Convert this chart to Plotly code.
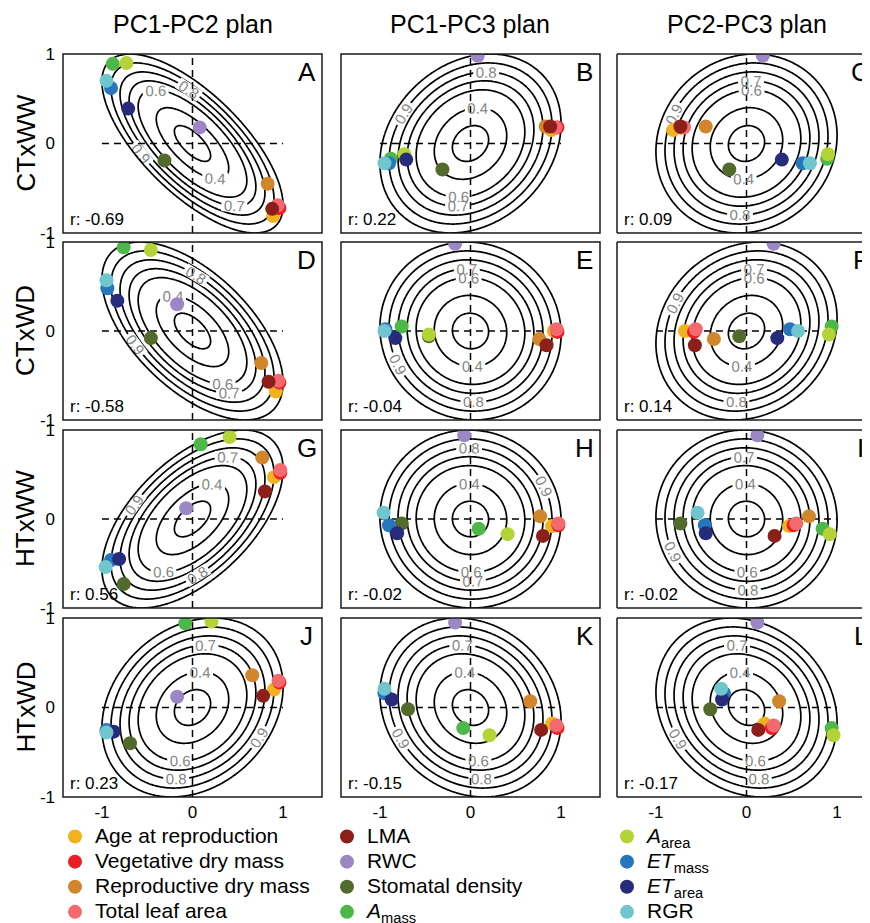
import numpy as np
import plotly.graph_objects as go

# ---------------- data ----------------
TRAITS = ["Age at reproduction", "Vegetative dry mass", "Reproductive dry mass", "Total leaf area",
          "LMA", "RWC", "Stomatal density", "<i>A</i><sub>mass</sub>",
          "<i>A</i><sub>area</sub>", "<i>ET</i><sub>mass</sub>", "<i>ET</i><sub>area</sub>", "RGR"]
COLORS = ["#F2B21F", "#EC1D25", "#D2862B", "#F26A6E",
          "#8C1F1A", "#9C87C5", "#526B2C", "#4DB848",
          "#B4D336", "#2776BD", "#262B7C", "#6FC6CD"]
LEGEND_COLUMN = [0, 0, 0, 0, 1, 1, 1, 1, 2, 2, 2, 2]

TREATMENTS = ["CTxWW", "CTxWD", "HTxWW", "HTxWD"]
PLANS = ["PC1-PC2 plan", "PC1-PC3 plan", "PC2-PC3 plan"]
PLAN_AXES = [(0, 1), (0, 2), (1, 2)]
PANEL_LETTERS = [["A", "B", "C"], ["D", "E", "F"], ["G", "H", "I"], ["J", "K", "L"]]
R_VALUES = [[-0.69, 0.22, 0.09],
            [-0.58, -0.04, 0.14],
            [0.56, -0.02, -0.02],
            [0.23, -0.15, -0.17]]

# loadings (order of TRAITS)
PC1_CTWW = [0.89, 0.96, 0.83, 0.94, 0.88, 0.08, -0.31, -0.88, -0.73, -0.90, -0.71, -0.95]
PC2_CTWW = [-0.81, -0.72, -0.45, -0.69, -0.73, 0.18, -0.19, 0.89, 0.90, 0.62, 0.39, 0.70]
PC3_CTWW = [0.15, 0.18, 0.19, 0.18, 0.19, 0.98, -0.29, -0.17, -0.12, -0.22, -0.18, -0.22]

PC1_CTWD = [0.92, 0.96, 0.76, 0.95, 0.84, -0.17, -0.46, -0.76, -0.46, -0.94, -0.83, -0.95]
PC2_CTWD = [-0.68, -0.58, -0.36, -0.56, -0.57, 0.30, -0.08, 0.94, 0.91, 0.48, 0.34, 0.57]
PC3_CTWD = [0.00, -0.01, -0.09, 0.02, -0.16, 0.98, -0.06, 0.05, -0.04, 0.02, -0.08, 0.00]

PC1_HTWW = [0.90, 0.97, 0.77, 0.97, 0.80, -0.07, -0.76, 0.09, 0.41, -0.90, -0.81, -0.96]
PC2_HTWW = [0.47, 0.52, 0.69, 0.55, 0.31, 0.12, -0.73, 0.84, 0.92, -0.46, -0.45, -0.54]
PC3_HTWW = [-0.08, -0.07, 0.03, -0.05, -0.19, 0.94, -0.05, -0.11, -0.17, -0.07, -0.16, 0.07]

PC1_HTWD = [0.90, 0.96, 0.66, 0.95, 0.78, -0.17, -0.69, -0.08, 0.21, -0.95, -0.87, -0.95]
PC2_HTWD = [0.20, 0.28, 0.36, 0.30, 0.13, 0.12, -0.40, 0.94, 0.96, -0.25, -0.27, -0.28]
PC3_HTWD = [-0.18, -0.23, 0.07, -0.20, -0.25, 0.95, -0.02, -0.23, -0.31, 0.16, 0.09, 0.21]

LOADINGS = [[PC1_CTWW, PC2_CTWW, PC3_CTWW],
            [PC1_CTWD, PC2_CTWD, PC3_CTWD],
            [PC1_HTWW, PC2_HTWW, PC3_HTWW],
            [PC1_HTWD, PC2_HTWD, PC3_HTWD]]

TICKS = [-1, 0, 1]
TICK_LABELS = ["-1", "0", "1"]
LEVELS_LOW = [0.2, 0.4, 0.6]
LEVELS_HIGH = [0.7, 0.8, 0.9]
LEVEL_OUTER = [1.0]

# ---------------- layout geometry (page pixels; body has an 8px margin) ----------------
OFF = 8
W, H = 870 - OFF, 923 - OFF
COL_PX = [(63, 322), (341, 600), (617, 870)]
NOMINAL_W = 259
ROW_PX = [(54, 233), (242, 420), (430, 608), (618, 797)]
XHALF = 1.43
FONT = "Liberation Sans, Arial, sans-serif"
LEGEND_X_PX = [55, 327, 607]


def fx(px):
    return (px - OFF) / W


def fy(py):
    return 1 - (py - OFF) / H


fig = go.Figure()
layout = dict(width=W, height=H, margin=dict(l=0, r=0, t=0, b=0, autoexpand=False),
              paper_bgcolor="white", plot_bgcolor="white",
              font=dict(family=FONT, color="black"), shapes=[], annotations=[])

xs = np.linspace(-1.8, 1.8, 241)
ys = np.linspace(-1.3, 1.3, 181)
XX, YY = np.meshgrid(xs, ys)
LEGEND_IDS = ["legend", "legend2", "legend3"]

for ri in range(4):
    for ci in range(3):
        k = ri * 3 + ci + 1
        xa = "x" if k == 1 else f"x{k}"
        ya = "y" if k == 1 else f"y{k}"
        xl = "xaxis" if k == 1 else f"xaxis{k}"
        yl = "yaxis" if k == 1 else f"yaxis{k}"
        c0, c1 = COL_PX[ci]
        r0, r1 = ROW_PX[ri]
        xr = [-XHALF, -XHALF + 2 * XHALF * (c1 - c0) / NOMINAL_W]
        layout[xl] = dict(domain=[fx(c0), min(1.0, fx(c1))], range=xr, anchor=ya,
                          showgrid=False, zeroline=False, showline=False,
                          tickvals=TICKS, ticktext=TICK_LABELS,
                          showticklabels=(ri == 3), ticks="", ticklabelstandoff=3,
                          tickfont=dict(size=17, family=FONT))
        layout[yl] = dict(domain=[fy(r1), fy(r0)], range=[-1, 1], anchor=xa,
                          showgrid=False, zeroline=False, showline=False,
                          tickvals=TICKS, ticktext=TICK_LABELS,
                          showticklabels=(ci == 0), ticks="", ticklabelstandoff=7,
                          tickfont=dict(size=17, family=FONT))

        r = R_VALUES[ri][ci]
        Z = np.sqrt((XX ** 2 - 2 * r * XX * YY + YY ** 2) / (1 - r ** 2))
        for lev, lab in ((LEVELS_LOW, True), (LEVELS_HIGH, True), (LEVEL_OUTER, False)):
            step = (lev[1] - lev[0]) if len(lev) > 1 else 0.5
            fig.add_trace(go.Contour(
                x=xs, y=ys, z=Z, xaxis=xa, yaxis=ya, autocontour=False,
                contours=dict(start=lev[0], end=lev[-1] + 1e-6, size=step, coloring="lines",
                              showlabels=lab, labelformat=".1f",
                              labelfont=dict(size=15, color="#858585", family=FONT)),
                colorscale=[[0, "black"], [1, "black"]], showscale=False,
                line=dict(width=1.7, smoothing=1), hoverinfo="skip", showlegend=False))

        # dashed cross-hair
        dash = dict(color="black", width=1.5, dash="7px,5px")
        layout["shapes"].append(dict(type="line", xref=xa, yref=ya, x0=TICKS[0], x1=TICKS[-1],
                                     y0=0, y1=0, line=dash, layer="below"))
        layout["shapes"].append(dict(type="line", xref=xa, yref=f"{ya} domain", x0=0, x1=0,
                                     y0=0, y1=1, line=dash, layer="below"))
        # frame
        fl = dict(color="#1a1a1a", width=1.5)
        if ci < 2:
            layout["shapes"].append(dict(type="rect", xref=f"{xa} domain", yref=f"{ya} domain",
                                         x0=0, x1=1, y0=0, y1=1, line=fl, layer="above"))
        else:
            for (x0, x1, y0, y1) in ((0, 0, 0, 1), (0, 1.02, 0, 0), (0, 1.02, 1, 1)):
                layout["shapes"].append(dict(type="line", xref=f"{xa} domain", yref=f"{ya} domain",
                                             x0=x0, x1=x1, y0=y0, y1=y1, line=fl, layer="above"))

        # points
        ax_i, ay_i = PLAN_AXES[ci]
        px = LOADINGS[ri][ax_i]
        py = LOADINGS[ri][ay_i]
        for t in range(len(TRAITS)):
            fig.add_trace(go.Scatter(
                x=[px[t]], y=[py[t]], xaxis=xa, yaxis=ya, mode="markers",
                marker=dict(size=14, color=COLORS[t], line=dict(width=0)),
                name='<span style="font-size:21px">' + TRAITS[t] + "</span>",
                legendgroup=TRAITS[t], legend=LEGEND_IDS[LEGEND_COLUMN[t]],
                showlegend=(k == 1), cliponaxis=True, hoverinfo="skip"))

        # annotations
        layout["annotations"].append(dict(text=PANEL_LETTERS[ri][ci], xref=xa, yref=ya,
                                          x=1.26, y=0.80, xanchor="center", yanchor="middle",
                                          showarrow=False, font=dict(size=26, family=FONT)))
        layout["annotations"].append(dict(text=f"r: {R_VALUES[ri][ci]:.2f}", xref=xa, yref=ya,
                                          x=-1.38, y=-0.85, xanchor="left", yanchor="middle",
                                          showarrow=False, font=dict(size=17, family=FONT)))

# column titles
for ci, title in enumerate(PLANS):
    c0 = COL_PX[ci][0]
    layout["annotations"].append(dict(text=title, xref="paper", yref="paper",
                                      x=fx(c0 + NOMINAL_W / 2), y=fy(8),
                                      xanchor="center", yanchor="top", showarrow=False,
                                      font=dict(size=25, family=FONT)))
# row labels
for ri, lab in enumerate(TREATMENTS):
    r0, r1 = ROW_PX[ri]
    layout["annotations"].append(dict(text=lab, xref="paper", yref="paper",
                                      x=fx(25), y=fy((r0 + r1) / 2), textangle=-90,
                                      xanchor="center", yanchor="middle", showarrow=False,
                                      font=dict(size=26, family=FONT)))

for li, lid in enumerate(LEGEND_IDS):
    layout[lid] = dict(orientation="v", x=fx(LEGEND_X_PX[li]), xanchor="left",
                       y=fy(819), yanchor="top", font=dict(size=17, family=FONT),
                       bgcolor="rgba(0,0,0,0)", itemsizing="trace", tracegroupgap=0)

fig.update_layout(**layout)
fig.write_html("out.html")
